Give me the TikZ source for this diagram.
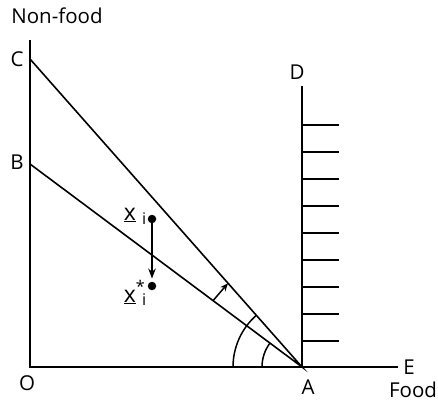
\documentclass[tikz,border=0pt]{standalone}
\usepackage{fontspec}
\setmainfont{Open Sans}
\usepackage{tikz}
\usetikzlibrary{arrows.meta,calc}

\begin{document}
\begin{tikzpicture}[x=1pt,y=1pt,font=\fontsize{20.5}{24}\selectfont,
  axis/.style={line width=2pt,line cap=rect},
  budget/.style={line width=1.6pt},
  thin line/.style={line width=1.5pt},
  hatch/.style={line width=2pt},
  lbl/.style={inner sep=0pt},
  bundle/.style={inner sep=0pt,font=\fontsize{23}{26}\selectfont}]
\useasboundingbox (0,0) rectangle (438,402);
% ---------- axes and points ----------
\coordinate (O) at (30,35);
\coordinate (top) at (30,361);
\coordinate (E) at (397,35);
\coordinate (A) at (302,35);
\coordinate (B) at (30,238);
\coordinate (C) at (30,343);
\coordinate (D) at (302,315);
\draw[axis] (top) -- (O) -- (E);
\draw[budget] (B) -- (A) -- (C);
\draw[axis] (A) -- (D);
% hatching on the vertical line
\foreach \i in {0,...,8}{
  \draw[hatch] (302,61+27*\i) -- (339,61+27*\i);
}
% angles at A
\draw[thin line] ([xshift=-40pt]A) arc[start angle=180,end angle=143.27,radius=40];
\draw[thin line] ([xshift=-69pt]A) arc[start angle=180,end angle=131.45,radius=69];
% shift of the budget line
\coordinate (onAB) at ($(A)!0.327!(B)$);
\coordinate (onAC) at ($(A)!0.272!(C)$);
\draw[thin line,-{Stealth[length=8pt,width=6.5pt]}] (onAB) -- (onAC);
% the two bundles
\node[circle,fill,inner sep=0pt,minimum size=8.5pt] (xi) at (152,183) {};
\node[circle,fill,inner sep=0pt,minimum size=8.5pt] (xs) at (152,116) {};
\draw[thin line,-{Stealth[length=10pt,width=7.5pt]},shorten >=3pt] (xi) -- (xs);
% ---------- labels ----------
\node[lbl] (nfood) at (57,386) {Non-food};
\node[lbl] (lC) at (17,343) {C};
\node[lbl] (lB) at (17,240) {B};
\node[lbl] (lD) at (297,330) {D};
\node[lbl] (lO) at (27,19) {O};
\node[lbl] (lA) at (308,15) {A};
\node[lbl] (lE) at (409,35) {E};
\node[lbl] (food) at (413,12) {Food};
\node[bundle,anchor=east] (lxi) at (147,186) {\underline{x}\;\textsubscript{i}};
\node[bundle,anchor=east] (lxs) at (147,109) {\underline{x}\rlap{\raisebox{1pt}{\textsuperscript{*}}}\;\textsubscript{i}};
\end{tikzpicture}
\end{document}
